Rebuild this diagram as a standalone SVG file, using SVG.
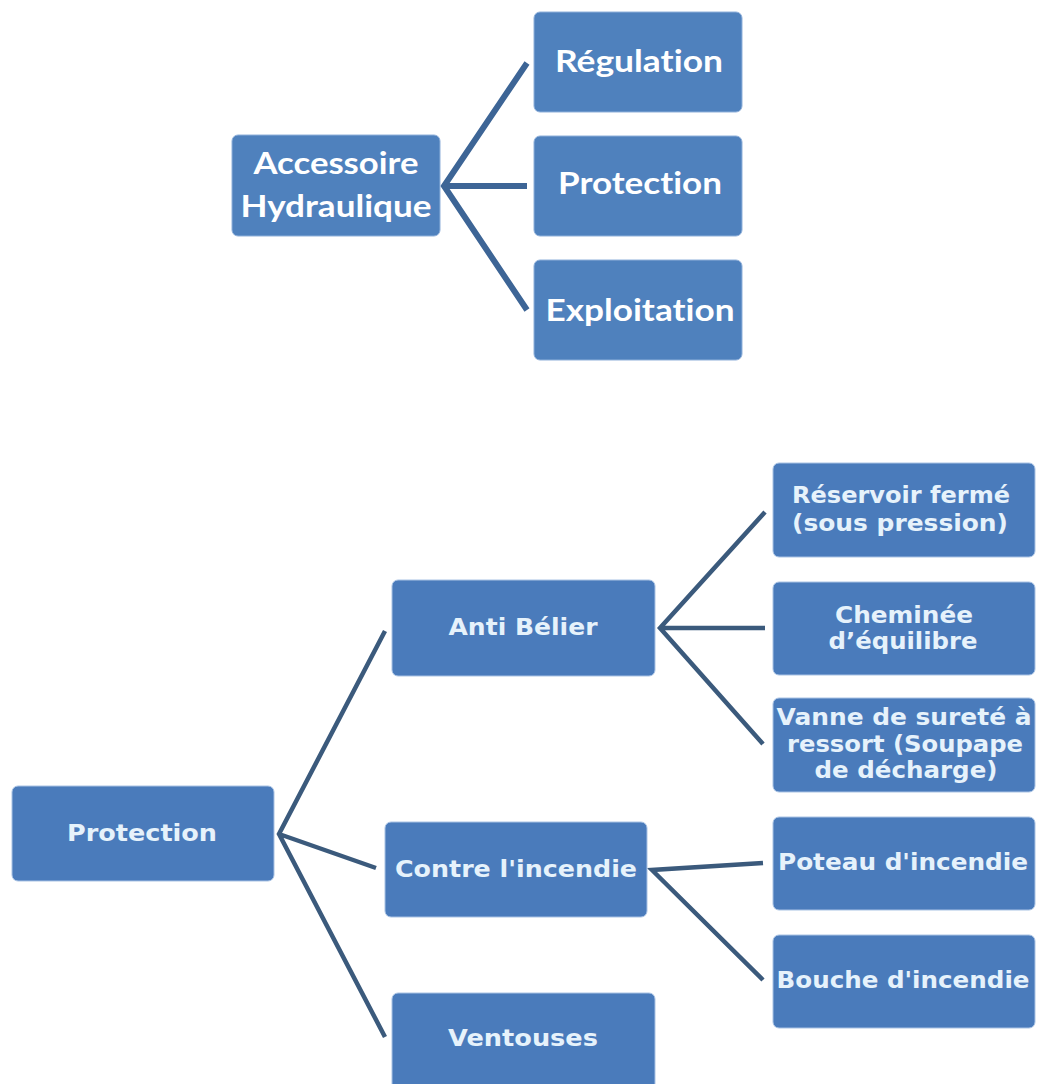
<svg xmlns="http://www.w3.org/2000/svg" width="1037" height="1084" viewBox="0 0 1037 1084">
<style>
.bt{fill:#4f81bd;stroke:#8fb0da;stroke-width:1}
.bb{fill:#4a7bbb;stroke:#a9c3e4;stroke-width:1}
.tt{font-family:Lato,"Liberation Sans",sans-serif;font-weight:bold;font-size:31px;fill:#ffffff;text-anchor:middle;font-variant-ligatures:none;font-feature-settings:"liga" 0,"clig" 0,"dlig" 0}
.tb{font-family:"DejaVu Sans","Liberation Sans",sans-serif;font-weight:bold;font-size:22.5px;fill:#e6f2fb;text-anchor:middle}
.ct{stroke:#3d6596;stroke-width:6;fill:none;stroke-linecap:butt;stroke-linejoin:miter}
.cb{stroke:#3b5a7c;stroke-width:4.5;fill:none;stroke-linecap:butt;stroke-linejoin:miter}
</style>
<rect width="1037" height="1084" fill="#ffffff"/>
<g id="connectors">
<path class="ct" d="M527,63 L444,186 L527,310 M444,186 L527,186"/>
<path class="cb" d="M385,631 L279,834 L385,1037 M279,834 L376,868"/>
<path class="cb" d="M765,512 L660,628 L763,744 M660,628 L765,628"/>
<path class="cb" d="M763,863 L652,870 L763,980"/>
</g>
<g id="n-accessoire"><rect class="bt" x="232" y="135" width="208" height="101" rx="6"/><text class="tt" x="336" y="174" textLength="165" lengthAdjust="spacingAndGlyphs">Accessoire</text><text class="tt" x="336" y="217" textLength="191" lengthAdjust="spacingAndGlyphs">Hydraulique</text></g>
<g id="n-regulation"><rect class="bt" x="534" y="12" width="208" height="100" rx="6"/><text class="tt" x="639" y="72" textLength="168" lengthAdjust="spacingAndGlyphs">Régulation</text></g>
<g id="n-protection-top"><rect class="bt" x="534" y="136" width="208" height="100" rx="6"/><text class="tt" x="640" y="194" textLength="164" lengthAdjust="spacingAndGlyphs">Protection</text></g>
<g id="n-exploitation"><rect class="bt" x="534" y="260" width="208" height="100" rx="6"/><text class="tt" x="640" y="321" textLength="189" lengthAdjust="spacingAndGlyphs">Exploitation</text></g>
<g id="n-protection"><rect class="bb" x="12" y="786" width="262" height="95" rx="6"/><text class="tb" x="142" y="841" textLength="150" lengthAdjust="spacingAndGlyphs">Protection</text></g>
<g id="n-antibelier"><rect class="bb" x="392" y="580" width="263" height="96" rx="6"/><text class="tb" x="523" y="635" textLength="149" lengthAdjust="spacingAndGlyphs">Anti Bélier</text></g>
<g id="n-contre"><rect class="bb" x="385" y="822" width="262" height="95" rx="6"/><text class="tb" x="516" y="877" textLength="242" lengthAdjust="spacingAndGlyphs">Contre l'incendie</text></g>
<g id="n-ventouses"><rect class="bb" x="392" y="993" width="263" height="100" rx="6"/><text class="tb" x="523" y="1046" textLength="150" lengthAdjust="spacingAndGlyphs">Ventouses</text></g>
<g id="n-reservoir"><rect class="bb" x="773" y="463" width="262" height="94" rx="6"/><text class="tb" x="901" y="503" textLength="218" lengthAdjust="spacingAndGlyphs">Réservoir fermé</text><text class="tb" x="900" y="531" textLength="216" lengthAdjust="spacingAndGlyphs">(sous pression)</text></g>
<g id="n-cheminee"><rect class="bb" x="773" y="582" width="262" height="93" rx="6"/><text class="tb" x="904" y="623" textLength="138" lengthAdjust="spacingAndGlyphs">Cheminée</text><text class="tb" x="903" y="649" textLength="149" lengthAdjust="spacingAndGlyphs">d’équilibre</text></g>
<g id="n-vanne"><rect class="bb" x="773" y="698" width="262" height="94" rx="6"/><text class="tb" x="904" y="725" textLength="255" lengthAdjust="spacingAndGlyphs">Vanne de sureté à</text><text class="tb" x="905" y="752" textLength="236" lengthAdjust="spacingAndGlyphs">ressort (Soupape</text><text class="tb" x="906" y="778" textLength="183" lengthAdjust="spacingAndGlyphs">de décharge)</text></g>
<g id="n-poteau"><rect class="bb" x="773" y="817" width="262" height="93" rx="6"/><text class="tb" x="903" y="870" textLength="250" lengthAdjust="spacingAndGlyphs">Poteau d'incendie</text></g>
<g id="n-bouche"><rect class="bb" x="773" y="935" width="262" height="93" rx="6"/><text class="tb" x="903" y="988" textLength="253" lengthAdjust="spacingAndGlyphs">Bouche d'incendie</text></g>
</svg>
